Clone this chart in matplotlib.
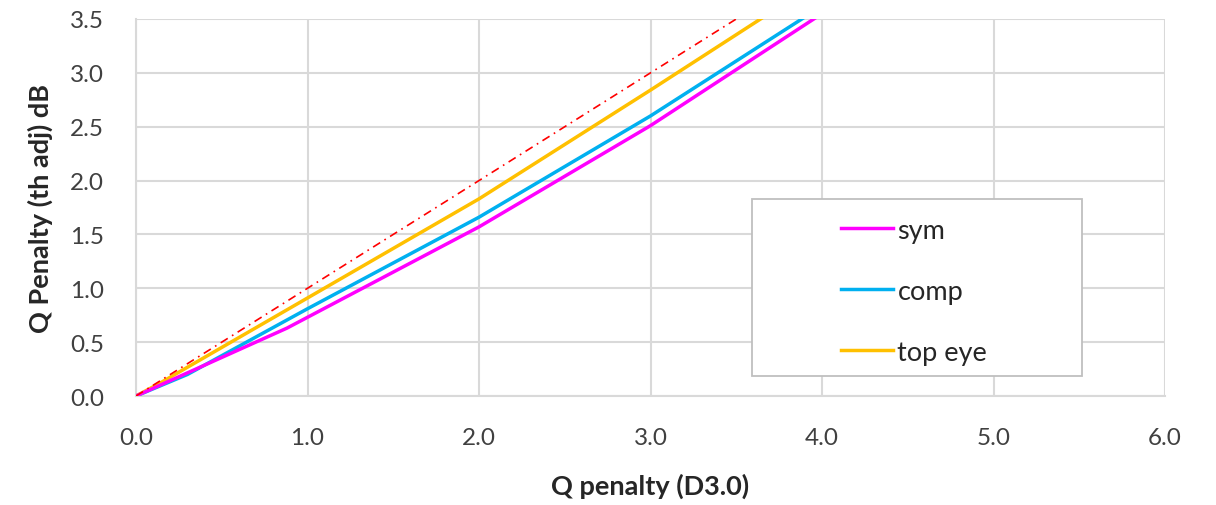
import matplotlib
matplotlib.use("Agg")
import matplotlib.pyplot as plt
from matplotlib.patches import Rectangle

# Data
sym_x = [0.0, 0.88, 2.0, 3.0, 4.0]
sym_y = [0.0, 0.63, 1.57, 2.51, 3.55]
comp_x = [0.0, 0.30, 1.0, 2.0, 3.0, 4.0]
comp_y = [0.0, 0.20, 0.81, 1.66, 2.60, 3.62]
top_x = [0.0, 0.14, 1.0, 2.0, 3.0, 3.7]
top_y = [0.0, 0.12, 0.91, 1.83, 2.84, 3.56]
ref_x = [0.0, 3.6]
ref_y = [0.0, 3.6]

x_ticks = [0, 1, 2, 3, 4, 5, 6]
y_ticks = [0.0, 0.5, 1.0, 1.5, 2.0, 2.5, 3.0, 3.5]

plt.rcParams['font.family'] = ['Lato', 'DejaVu Sans']

fig = plt.figure(figsize=(12.16, 5.06), dpi=100)
ax = fig.add_axes([136/1216, 1 - 397/506, (1165-136)/1216, (397-20)/506])

ax.plot(comp_x, comp_y, color='#00B0F0', lw=2.5, label='comp', zorder=3)
ax.plot(top_x, top_y, color='#FFC000', lw=2.5, label='top eye', zorder=3)
ax.plot(sym_x, sym_y, color='#FF00FF', lw=2.5, label='sym', zorder=4)
ax.plot(ref_x, ref_y, color='#FF0000', lw=1.2, dashes=[5, 3, 1, 3], zorder=5)

ax.set_xlim(0, 6)
ax.set_ylim(0, 3.5)
ax.set_xticks(x_ticks)
ax.set_xticklabels([f"{v:.1f}" for v in x_ticks])
ax.set_yticks(y_ticks)
ax.set_yticklabels([f"{v:.1f}" for v in y_ticks])
ax.tick_params(length=0, labelsize=17.5, colors='#404040')
ax.tick_params(axis='x', pad=22)
ax.tick_params(axis='y', pad=23)
ax.grid(True, color='#D9D9D9', lw=1.5)
ax.set_axisbelow(True)
for s in ['top', 'right']:
    ax.spines[s].set_visible(False)
for s in ['left', 'bottom']:
    ax.spines[s].set_color('#D9D9D9')
    ax.spines[s].set_linewidth(1.5)

ax.set_xlabel('Q penalty (D3.0)', fontsize=19.5, fontweight='bold', color='#262626', labelpad=18)
ax.set_ylabel('Q Penalty (th adj) dB', fontsize=19.5, fontweight='bold', color='#262626', labelpad=12)

# legend frame
x0 = (752-136)/1029; x1 = (1082-136)/1029
y0 = (397-377)/377; y1 = (397-200)/377
ax.add_patch(Rectangle((x0, y0), x1-x0, y1-y0, transform=ax.transAxes,
                       facecolor='white', edgecolor='#BFBFBF', lw=1.3, zorder=6))
handles, labels = ax.get_legend_handles_labels()
order = [2, 0, 1]
leg = ax.legend([handles[i] for i in order], [labels[i] for i in order],
                loc='upper left', bbox_to_anchor=((827-136)/1029, (397-205)/377),
                frameon=False, fontsize=19.5, handlelength=1.95, handletextpad=0.15,
                labelspacing=1.33, borderpad=0)
leg.set_zorder(7)
for t in leg.get_texts():
    t.set_color('#262626')

fig.savefig('out.png', dpi=100)
